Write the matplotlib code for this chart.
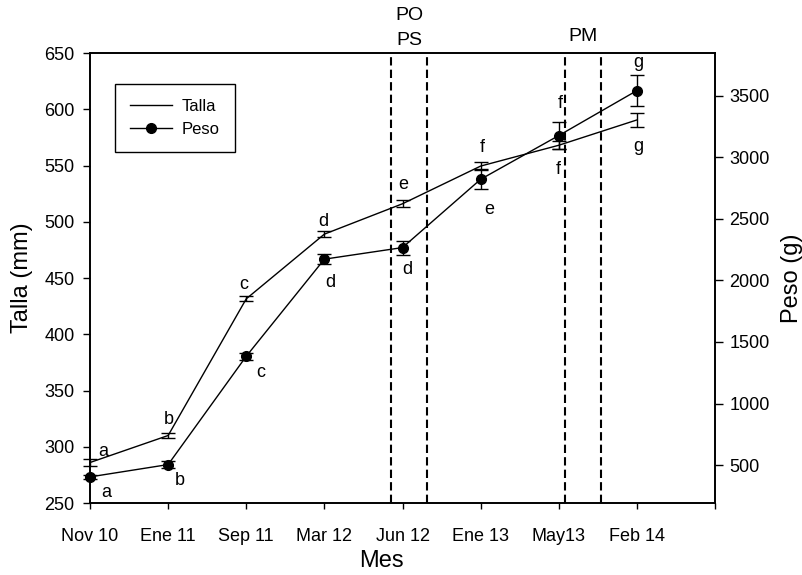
import numpy as np
import matplotlib
matplotlib.use('Agg')
import matplotlib.pyplot as plt
import matplotlib.transforms as mtransforms
from matplotlib.lines import Line2D

plt.rcParams['font.family'] = ['Liberation Sans', 'DejaVu Sans']

##################################################
# data

meses = ['Nov 10', 'Ene 11', 'Sep 11', 'Mar 12', 'Jun 12', 'Ene 13', 'May13', 'Feb 14']
talla = [286, 310, 431.5, 489, 516, 549.5, 568, 590.5]
talla_err = [3, 2.4, 2.2, 2.5, 3, 3.2, 3.5, 6]
peso = [405, 505, 1384, 2172, 2266, 2820, 3175, 3540]
peso_err = [15, 25, 28, 38, 57, 80, 113, 124]
letras_talla = ['a', 'b', 'c', 'd', 'e', 'f', 'f', 'g']
letras_peso = ['a', 'b', 'c', 'd', 'd', 'e', 'f', 'g']

# periods marked with dashed lines (x in category units)
periodos = [('PO\nPS', 3.855, 4.317), ('PM', 6.077, 6.538)]

##################################################
# styles

# letter offsets in pixels from each point
off_talla = [(13, 11), (1, 16), (-3, 14), (-1, 13), (1, 19), (2, 19), (0, -24), (1, -27)]
off_peso = [(16, -16), (12, -16), (14, -16), (6, -23), (5, -22), (9, -30), (2, 32), (1, 28)]
# x tick label shifts in pixels
off_ticks = [9, 8, 1, 8, 8, 12, 12, 10]

##################################################
# main program

fig = plt.figure(figsize=(8.03, 5.75), dpi=100)
ax = fig.add_axes([0.1121, 0.1252, 0.7783, 0.7826])
ax2 = ax.twinx()
x = np.arange(len(meses))

ax.errorbar(x, talla, yerr=talla_err, fmt='none', ecolor='k', elinewidth=1,
            capsize=4.7, capthick=1, clip_on=False)
ax.plot(x, talla, color='k', lw=1, clip_on=False)

ax2.errorbar(x, peso, yerr=peso_err, fmt='none', ecolor='k', elinewidth=1,
             capsize=4.7, capthick=1, clip_on=False)
ax2.plot(x, peso, color='k', lw=1, marker='o', ms=7, clip_on=False)

for lab, x0, x1 in periodos:
    for v in (x0, x1):
        ax.axvline(v, color='k', ls=(0, (4, 2)), lw=1.5)

trans = mtransforms.blended_transform_factory(ax.transData, ax.transAxes)
ax.text((periodos[0][1] + periodos[0][2]) / 2, 1.0833, 'PO', transform=trans,
        ha='center', va='center', fontsize=14)
ax.text((periodos[0][1] + periodos[0][2]) / 2, 1.0289, 'PS', transform=trans,
        ha='center', va='center', fontsize=14)
ax.text((periodos[1][1] + periodos[1][2]) / 2, 1.0356, 'PM', transform=trans,
        ha='center', va='center', fontsize=14)

for i in range(len(meses)):
    ax.annotate(letras_talla[i], (x[i], talla[i]), xytext=off_talla[i],
                textcoords='offset pixels', ha='center', va='center', fontsize=13)
    ax2.annotate(letras_peso[i], (x[i], peso[i]), xytext=off_peso[i],
                 textcoords='offset pixels', ha='center', va='center', fontsize=13)

ax.set_xlim(0, 8)
ax.set_ylim(250, 650)
ax2.set_ylim(193, 3845)

ax.set_xticks(np.arange(9))
ax.set_xticklabels(meses + [''])
for lbl, dx in zip(ax.get_xticklabels(), off_ticks + [0]):
    lbl.set_transform(lbl.get_transform() +
                      mtransforms.ScaledTranslation(dx / 100, 0, fig.dpi_scale_trans))
ax.set_yticks(np.arange(250, 651, 50))
ax2.set_yticks(np.arange(500, 3501, 500))

ax.tick_params(axis='x', direction='out', length=4.5, width=1, labelsize=13, pad=13.5)
ax.tick_params(axis='y', direction='out', length=5, width=1, labelsize=13, pad=6)
ax2.tick_params(axis='y', direction='out', length=5.5, width=1, labelsize=13, pad=5)

for a in (ax, ax2):
    for s in a.spines.values():
        s.set_linewidth(1.2)

ax.set_ylabel('Talla (mm)', fontsize=17)
ax.yaxis.set_label_coords(-0.092, 0.5)
ax2.set_ylabel('Peso (g)', fontsize=17)
ax2.yaxis.set_label_coords(1.106, 0.5)
ax.set_xlabel('Mes', fontsize=17)
ax.xaxis.set_label_coords(0.467, -0.105)

handles = [Line2D([], [], color='k', lw=1),
           Line2D([], [], color='k', lw=1, marker='o', ms=7)]
leg = ax2.legend(handles, ['Talla', 'Peso'], loc='upper left', bbox_to_anchor=(0.04, 0.931),
                 borderaxespad=0, fancybox=False, edgecolor='k', framealpha=1,
                 fontsize=12, handlelength=2.5, handletextpad=0.6,
                 labelspacing=0.45, borderpad=0.9)
leg.get_frame().set_linewidth(1)

fig.savefig('out.png', dpi=100)
